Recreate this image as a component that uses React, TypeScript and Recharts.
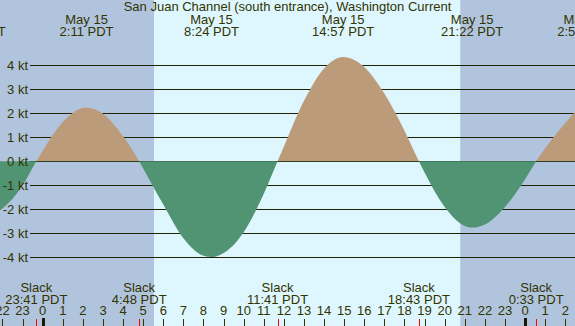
import { Area, AreaChart, CartesianGrid, ReferenceArea, XAxis, YAxis } from "recharts";

const title = "San Juan Channel (south entrance), Washington Current";

// hours after midnight, May 15 (PDT) and current speed in knots (+ flood, - ebb)
const hours = [-2.124, -2, -1, -0.317, 0, 1, 2.183, 3, 4, 4.8, 5, 6, 7, 8, 8.4, 9, 10, 11, 11.683, 12, 13, 14, 14.95, 16, 17, 18, 18.717, 19, 20, 21, 21.367, 22, 23, 24, 24.55, 25, 26, 26.483];
const knots = [-2.05, -1.97, -1.0, 0, 0.44, 1.64, 2.24, 1.98, 1.04, 0, -0.3, -1.8, -3.2, -3.93, -3.99, -3.82, -2.95, -1.35, 0, 0.62, 2.52, 3.87, 4.35, 3.93, 2.82, 1.27, 0, -0.47, -1.9, -2.69, -2.76, -2.63, -1.9, -0.75, 0, 0.55, 1.6, 2.05];

// max flood / max ebb
const extremeHours = [-3.383, 2.183, 8.4, 14.95, 21.367, 26.967];
const extremeDays = ["May 14", "May 15", "May 15", "May 15", "May 15", "May 16"];
const extremeTimes = ["20:37 PDT", "2:11 PDT", "8:24 PDT", "14:57 PDT", "21:22 PDT", "2:58 PDT"];

const slackHours = [-0.317, 4.8, 11.683, 18.717, 24.55];
const slackTimes = ["23:41 PDT", "4:48 PDT", "11:41 PDT", "18:43 PDT", "0:33 PDT"];

const hourTicks = [-2, -1, 0, 1, 2, 3, 4, 5, 6, 7, 8, 9, 10, 11, 12, 13, 14, 15, 16, 17, 18, 19, 20, 21, 22, 23, 24, 25, 26];
const ktTicks = [-4, -3, -2, -1, 0, 1, 2, 3, 4];

// sunset -> sunrise
const nightStarts = [-2.124, 20.776];
const nightEnds = [5.537, 26.483];

const xDomain = [-2.124, 26.483];
const yDomain = [-6.86, 6.72];

const W = 575;
const H = 326;
const ink = "#333300";
const font = "'Liberation Sans', Arial, sans-serif";

const rows = hours.map((h, i) => ({ h, kt: knots[i] }));
const hi = Math.max(...knots);
const lo = Math.min(...knots);
const split = hi / (hi - lo);

const px = (v: number) => Math.round(v) + 0.5;

function HourTick({ x, payload }: any) {
  const v = payload.value;
  const label = ((v % 24) + 24) % 24;
  return (
    <g>
      <text x={x} y={H - 11} textAnchor="middle" fill={ink} fontSize={13} fontFamily={font}>
        {label}
      </text>
      {label === 0 ? (
        <rect x={Math.round(x) - 1} y={H - 8} width={3} height={8} fill="#1a1a00" />
      ) : (
        <line x1={px(x)} x2={px(x)} y1={H - 7} y2={H} stroke={ink} />
      )}
    </g>
  );
}

function SlackTick({ x, payload }: any) {
  const i = slackHours.indexOf(payload.value);
  return (
    <g>
      <text x={x} y={H - 34} textAnchor="middle" fill={ink} fontSize={13} fontFamily={font}>
        Slack
      </text>
      <text x={x} y={H - 22} textAnchor="middle" fill={ink} fontSize={13} fontFamily={font}>
        {slackTimes[i]}
      </text>
      <line x1={px(x)} x2={px(x)} y1={H - 7} y2={H} stroke="#ff0000" />
    </g>
  );
}

function ExtremeTick({ x, payload }: any) {
  const i = extremeHours.indexOf(payload.value);
  return (
    <g>
      <text x={x} y={24} textAnchor="middle" fill={ink} fontSize={13} fontFamily={font}>
        {extremeDays[i]}
      </text>
      <text x={x} y={36} textAnchor="middle" fill={ink} fontSize={13} fontFamily={font}>
        {extremeTimes[i]}
      </text>
    </g>
  );
}

function KtTick({ y, payload }: any) {
  return (
    <text x={28} y={y + 4.5} textAnchor="end" fill={ink} fontSize={13} fontFamily={font}>
      {payload.value} kt
    </text>
  );
}

function GridLine(props: any) {
  return <line key={props.key} x1={30} x2={props.x2} y1={px(props.y1)} y2={px(props.y2)} stroke="#222200" />;
}

export default function App() {
  return (
    <div style={{ position: "absolute", left: 0, top: 0, width: W, height: H, background: "#def7ff", fontFamily: font, overflow: "hidden" }}>
      <AreaChart width={W} height={H} data={rows} margin={{ top: -1, right: 0, bottom: -2, left: -1 }}>
        <defs>
          <linearGradient id="flow" x1="0" y1="0" x2="0" y2="1">
            <stop offset={split} stopColor="#bc9b7b" />
            <stop offset={split} stopColor="#519473" />
          </linearGradient>
        </defs>
        <XAxis
          dataKey="h"
          type="number"
          domain={xDomain}
          allowDataOverflow
          ticks={hourTicks}
          interval={0}
          height={1}
          tickSize={0}
          tickMargin={0}
          axisLine={false}
          tickLine={false}
          tick={<HourTick />}
        />
        <XAxis
          xAxisId="slack"
          dataKey="h"
          type="number"
          domain={xDomain}
          allowDataOverflow
          ticks={slackHours}
          interval={0}
          height={1}
          tickSize={0}
          tickMargin={0}
          axisLine={false}
          tickLine={false}
          tick={<SlackTick />}
        />
        <XAxis
          xAxisId="ext"
          orientation="top"
          dataKey="h"
          type="number"
          domain={xDomain}
          allowDataOverflow
          ticks={extremeHours}
          interval={0}
          height={1}
          tickSize={0}
          tickMargin={0}
          axisLine={false}
          tickLine={false}
          tick={<ExtremeTick />}
        />
        <YAxis
          type="number"
          domain={yDomain}
          allowDataOverflow
          ticks={ktTicks}
          interval={0}
          width={1}
          tickSize={0}
          tickMargin={0}
          axisLine={false}
          tickLine={false}
          tick={<KtTick />}
        />
        {nightStarts.map((s, i) => (
          <ReferenceArea key={i} x1={s} x2={nightEnds[i]} fill="#b0c4de" fillOpacity={1} stroke="none" zIndex={-200} />
        ))}
        <CartesianGrid vertical={false} horizontal={GridLine} syncWithTicks />
        <Area
          type="monotone"
          dataKey="kt"
          baseValue={0}
          stroke="none"
          fill="url(#flow)"
          fillOpacity={1}
          isAnimationActive={false}
        />
      </AreaChart>
      <div style={{ position: "absolute", left: 0, top: -1, width: W, textAlign: "center", fontSize: 13, lineHeight: "15px", color: ink }}>
        {title}
      </div>
    </div>
  );
}
